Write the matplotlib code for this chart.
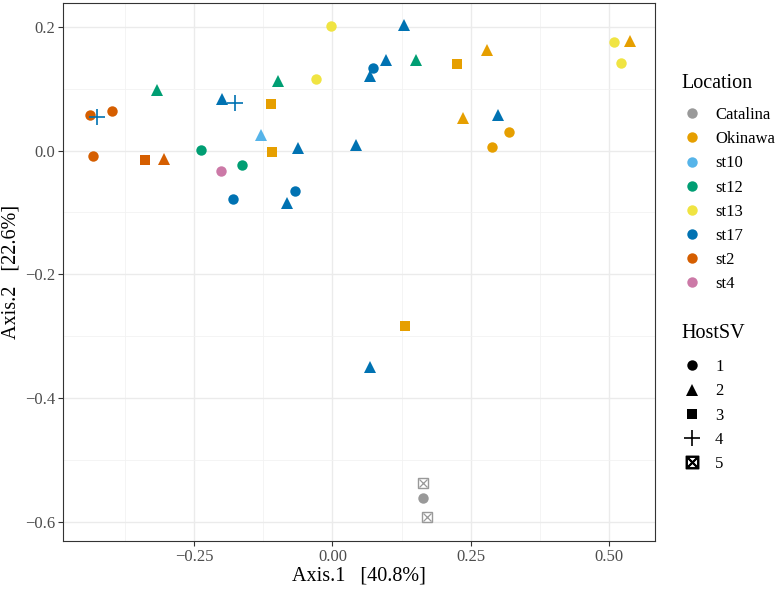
import matplotlib
matplotlib.use("Agg")
import matplotlib.pyplot as plt
from matplotlib.lines import Line2D
import numpy as np

plt.rcParams['font.family'] = ['Liberation Serif', 'DejaVu Serif']
plt.rcParams['mathtext.fontset'] = 'stix'

locations = ["Catalina", "Okinawa", "st10", "st12", "st13", "st17", "st2", "st4"]
loc_colors = ["#999999", "#E69F00", "#56B4E9", "#009E73", "#F0E442", "#0072B2", "#D55E00", "#CC79A7"]
host_levels = ["1", "2", "3", "4", "5"]

axis1 = [-0.003, -0.318, -0.099, -0.030, -0.4385, -0.426, -0.398, -0.199, -0.176, -0.111,
         -0.129, -0.432, -0.238, -0.338, -0.305, -0.201, -0.164, -0.109, -0.062, 0.043,
         -0.068, -0.180, -0.083, 0.130, 0.073, 0.068, 0.097, 0.1515, 0.225, 0.279,
         0.508, 0.537, 0.522, 0.236, 0.300, 0.320, 0.288, 0.131, 0.068, 0.164,
         0.163, 0.171]
axis2 = [0.201, 0.098, 0.112, 0.115, 0.057, 0.0535, 0.064, 0.0835, 0.077, 0.0745,
         0.025, -0.009, 0.001, -0.015, -0.014, -0.0326, -0.023, -0.002, 0.0035, 0.0097,
         -0.065, -0.079, -0.085, 0.202, 0.133, 0.121, 0.146, 0.1455, 0.1395, 0.162,
         0.1755, 0.176, 0.142, 0.052, 0.057, 0.030, 0.005, -0.2826, -0.350, -0.537,
         -0.560, -0.592]
location = ["st13", "st12", "st12", "st13", "st2", "st17", "st2", "st17", "st17", "Okinawa",
            "st10", "st2", "st12", "st2", "st2", "st4", "st12", "Okinawa", "st17", "st17",
            "st17", "st17", "st17", "st17", "st17", "st17", "st17", "st12", "Okinawa", "Okinawa",
            "st13", "Okinawa", "st13", "Okinawa", "st17", "Okinawa", "Okinawa", "Okinawa", "st17", "Catalina",
            "Catalina", "Catalina"]
hostsv = ["1", "2", "2", "1", "1", "4", "1", "2", "4", "3",
          "2", "1", "1", "3", "2", "1", "1", "3", "2", "2",
          "1", "1", "2", "2", "1", "2", "2", "2", "3", "2",
          "1", "2", "1", "2", "2", "1", "1", "3", "2", "5",
          "1", "5"]

marker_map = {"1": ("o", 7.5), "2": ("^", 8.5), "3": ("s", 7), "4": ("+", 11), "5": ("s", 7.5)}

fig = plt.figure(figsize=(7.81, 5.89), dpi=100)
ax = fig.add_axes([63/781, 48/589, (655-63)/781, (541-3)/589])

cmap = dict(zip(locations, loc_colors))
x = np.array(axis1); y = np.array(axis2)
loc = np.array(location); hs = np.array(hostsv)
for h in host_levels:
    for l in locations:
        m = (hs == h) & (loc == l)
        if not m.any():
            continue
        c = cmap[l]
        mk, ms = marker_map[h]
        if h == "5":
            ax.plot(x[m], y[m], linestyle='none', marker='s', ms=7.5, mfc='none', mec=c, mew=1.0, zorder=3)
            ax.plot(x[m], y[m], linestyle='none', marker='x', ms=5.5, mec=c, mew=0.9, zorder=3)
        elif h == "4":
            ax.plot(x[m], y[m], linestyle='none', marker='+', ms=ms, mec=c, mew=1.2, zorder=3)
        else:
            ax.plot(x[m], y[m], linestyle='none', marker=mk, ms=ms, mfc=c, mec=c, mew=0, zorder=3)

ax.set_xlim(-0.487, 0.583)
ax.set_ylim(-0.630, 0.238)
xt = [-0.25, 0.0, 0.25, 0.5]
yt = [0.2, 0.0, -0.2, -0.4, -0.6]
ax.set_xticks(xt)
ax.set_xticklabels(["\u22120.25", "0.00", "0.25", "0.50"])
ax.set_yticks(yt)
ax.set_yticklabels(["0.2", "0.0", "\u22120.2", "\u22120.4", "\u22120.6"])
ax.set_xticks([-0.375, -0.125, 0.125, 0.375], minor=True)
ax.set_yticks([0.1, -0.1, -0.3, -0.5], minor=True)
ax.grid(True, which='major', color='#EBEBEB', lw=1.0, zorder=0)
ax.grid(True, which='minor', color='#F2F2F2', lw=0.6, zorder=0)
ax.set_axisbelow(True)
ax.tick_params(which='major', length=3.5, width=0.8, color='#333333', labelsize=12, labelcolor='#4D4D4D', pad=2)
ax.tick_params(which='minor', length=0)
for s in ax.spines.values():
    s.set_color('#333333'); s.set_linewidth(0.8)
ax.set_xlabel("Axis.1   [40.8%]", fontsize=14.5, labelpad=1)
ax.set_ylabel("Axis.2   [22.6%]", fontsize=14.5, labelpad=3)

LS = 0.49
FS = 12
loc_handles = [Line2D([], [], linestyle='none', marker='o', ms=7.5, mfc=c, mec=c, mew=0) for c in loc_colors]
leg1 = fig.legend(loc_handles, locations, title="Location", loc='upper left',
                  bbox_to_anchor=(675/781, 1 - 67/589), frameon=False, fontsize=FS,
                  title_fontsize=14.5, labelspacing=LS, handlelength=1.2, handletextpad=0.8,
                  borderaxespad=0)
leg1._legend_box.align = "left"
leg1._legend_box.sep = 10.4

hs_handles = [Line2D([], [], linestyle='none', marker='o', ms=7.5, mfc='black', mec='black', mew=0),
              Line2D([], [], linestyle='none', marker='^', ms=8.5, mfc='black', mec='black', mew=0),
              Line2D([], [], linestyle='none', marker='s', ms=7, mfc='black', mec='black', mew=0),
              Line2D([], [], linestyle='none', marker='+', ms=11, mec='black', mew=1.2),
              Line2D([], [], linestyle='none', marker=r'$\boxtimes$', ms=9, mec='black', mfc='black')]
leg2 = fig.legend(hs_handles, host_levels, title="HostSV", loc='upper left',
                  bbox_to_anchor=(675/781, 1 - 317/589), frameon=False, fontsize=FS,
                  title_fontsize=14.5, labelspacing=LS, handlelength=1.2, handletextpad=0.8,
                  borderaxespad=0)
leg2._legend_box.align = "left"
leg2._legend_box.sep = 11.9

fig.savefig("out.png", dpi=100)
